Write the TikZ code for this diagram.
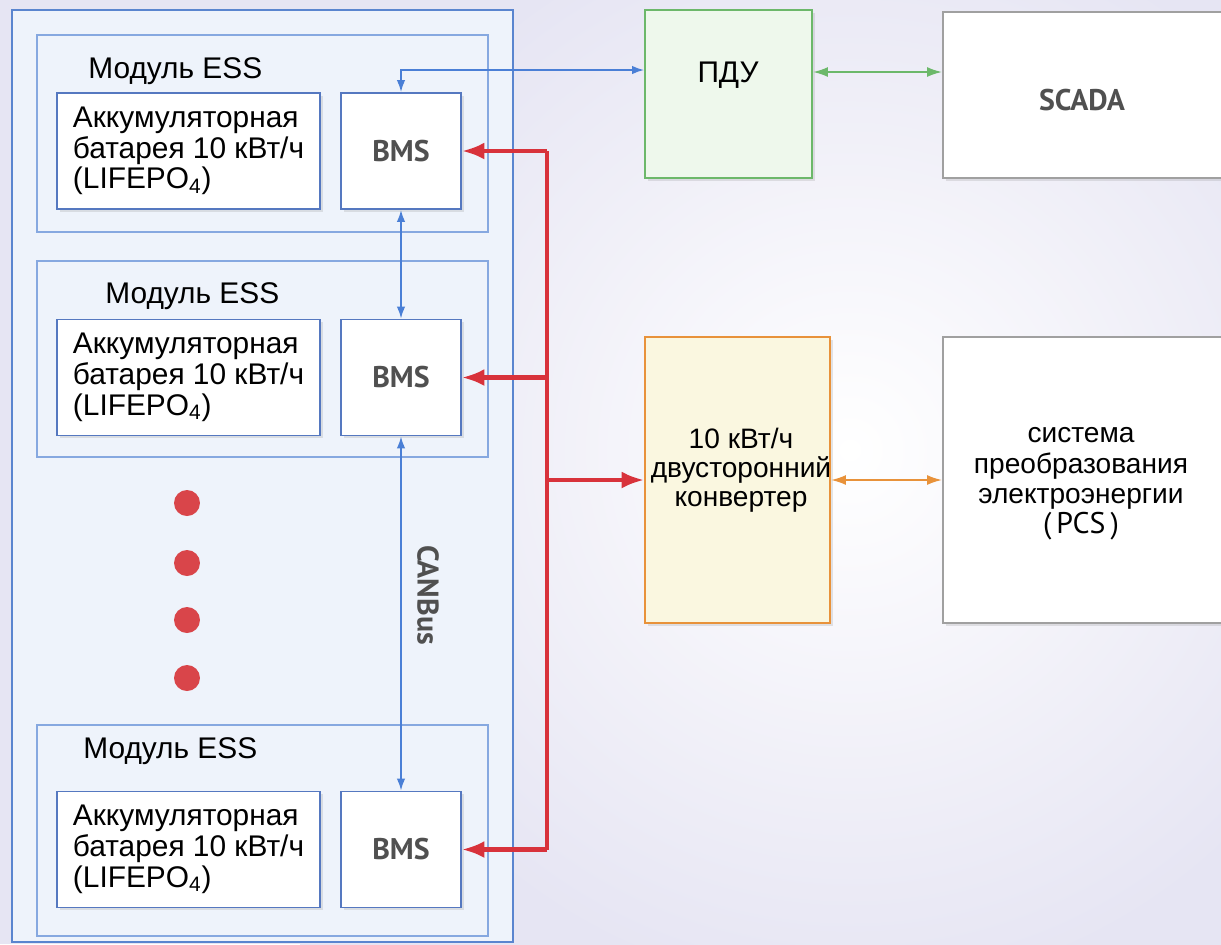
\documentclass[tikz,border=0pt]{standalone}
\usepackage{fontspec}
\setmainfont{Liberation Sans}
\newfontfamily\dinfont{PT Sans}
\usetikzlibrary{arrows.meta, shadows}
\definecolor{bgc}{HTML}{E6E5F3}
\definecolor{panelc}{HTML}{EEF3FB}
\definecolor{panellinec}{HTML}{5A85CF}
\definecolor{modlinec}{HTML}{86A8E0}
\definecolor{boxlinec}{HTML}{5578C0}
\definecolor{bluec}{HTML}{4A7FD6}
\definecolor{greenc}{HTML}{6CB86A}
\definecolor{greenfillc}{HTML}{EEF8EC}
\definecolor{redc}{HTML}{D8323B}
\definecolor{orangec}{HTML}{E8923A}
\definecolor{convfillc}{HTML}{FAF7E0}
\definecolor{graylinec}{HTML}{A0A0A0}
\definecolor{dotc}{HTML}{D9454A}
\definecolor{graytextc}{HTML}{505050}

\begin{document}
\begin{tikzpicture}[x=0.02cm, y=-0.02cm,
    font=\fontsize{17}{17.5}\selectfont,
    shade box/.style={drop shadow={shadow xshift=1.5pt, shadow yshift=-1.5pt, opacity=0.2}},
    dintext/.style={font=\dinfont\bfseries\fontsize{17}{18}\selectfont, text=graytextc},
    battbox/.style={draw=boxlinec, line width=1.1pt, fill=white, shade box,
      minimum width=5.26cm, minimum height=2.32cm, align=left, inner sep=0pt},
    bmsbox/.style={draw=boxlinec, line width=1.1pt, fill=white, shade box,
      minimum width=2.4cm, minimum height=2.32cm, inner sep=0pt, dintext},
    modlabel/.style={anchor=west, inner sep=0pt},
    bluearrow/.style={bluec, line width=0.9pt, {Latex[length=0.24cm, width=0.17cm]}-{Latex[length=0.24cm, width=0.17cm]}},
    greenarrow/.style={greenc, line width=1.1pt, {Latex[length=0.3cm, width=0.2cm]}-{Latex[length=0.3cm, width=0.2cm]}},
    orangearrow/.style={orangec, line width=1.1pt, {Latex[length=0.3cm, width=0.2cm]}-{Latex[length=0.3cm, width=0.2cm]}},
    redline/.style={redc, line width=2.3pt},
    redarrow/.style={redline, -{Latex[length=0.45cm, width=0.34cm]}}]
  \useasboundingbox (0,0) rectangle (1221,944);
  \clip (0,0) rectangle (1221,944);
  \fill[bgc] (0,0) rectangle (1221,944);
  \shade[inner color=white, outer color=bgc] (300,-100) rectangle (1400,1000);

  % ESS panel with three modules
  \draw[panellinec, fill=panelc, line width=1.3pt] (12,10) rectangle (513,942);
  \foreach \ya/\yb in {35/232, 261/457, 725/936}
    \draw[modlinec, line width=0.6pt] (37,\ya) rectangle (488,\yb);
  \node[modlabel] (lab1) at (88,71)  {Модуль ESS};
  \node[modlabel] (lab2) at (105,296) {Модуль ESS};
  \node[modlabel] (lab3) at (83,751) {Модуль ESS};

  \node[battbox] (batt1) at (188.5,151)   {Аккумуляторная\\батарея 10 кВт/ч\\(LIFEPO\textsubscript{4})};
  \node[battbox] (batt2) at (188.5,377.5) {Аккумуляторная\\батарея 10 кВт/ч\\(LIFEPO\textsubscript{4})};
  \node[battbox] (batt3) at (188.5,849.5) {Аккумуляторная\\батарея 10 кВт/ч\\(LIFEPO\textsubscript{4})};
  \node[bmsbox] (bms1) at (401,151)   {BMS};
  \node[bmsbox] (bms2) at (401,377.5) {BMS};
  \node[bmsbox] (bms3) at (401,849.5) {BMS};

  \foreach \y in {503,563,620,678}
    \fill[dotc] (187,\y) circle (0.26cm);

  \node[rotate=-90, dintext] (canbus) at (428,595) {CANBus};

  % right-hand units
  \node[draw=greenc, fill=greenfillc, line width=1.1pt, shade box,
    minimum width=3.34cm, minimum height=3.36cm] (pdu) at (728.5,94) {};
  \node (pdutxt) at (728,75) {ПДУ};
  \node[draw=graylinec, fill=white, line width=1.1pt, shade box,
    minimum width=5.64cm, minimum height=3.32cm] (scada) at (1084,95) {};
  \node[dintext] (scadatxt) at (1082,100) {SCADA};
  \node[draw=orangec, fill=convfillc, line width=1.1pt, shade box,
    minimum width=3.7cm, minimum height=5.72cm, inner sep=0pt] (conv) at (737.5,480) {};
  \node[align=center, inner sep=0pt, font=\fontsize{16}{16.5}\selectfont] (convtxt) at (741,470)
    {10 кВт/ч\\двусторонний\\конвертер};
  \node[draw=graylinec, fill=white, line width=1.1pt, shade box,
    minimum width=5.64cm, minimum height=5.72cm] (pcs) at (1084,480) {};
  \node[align=center, inner sep=0pt, font=\fontsize{16}{17.2}\selectfont] (pcstxt) at (1081,484)
    {система\\преобразования\\электроэнергии\\{\dinfont\fontsize{17}{17.2}\selectfont (\,PCS\,)}};

  % connections
  \draw[bluearrow] (bms1.north) |- ([yshift=0.48cm]pdu.west);
  \draw[bluearrow] (bms1.south) -- (bms2.north);
  \draw[bluearrow] (bms2.south) -- (bms3.north);
  \draw[greenarrow] ([yshift=0.44cm]pdu.east) -- ([yshift=0.46cm]scada.west);
  \draw[orangearrow] (conv.east) -- (pcs.west);

  \coordinate (bustop) at (547,151);
  \coordinate (busbot) at (547,849.5);
  \draw[redline] (bustop) -- (busbot);
  \draw[redarrow] (bustop) -- (bms1.east);
  \draw[redarrow] (bms2.east -| bustop) -- (bms2.east);
  \draw[redarrow] (bustop |- conv.west) -- (conv.west);
  \draw[redarrow] (busbot) -- (bms3.east);
\end{tikzpicture}
\end{document}
